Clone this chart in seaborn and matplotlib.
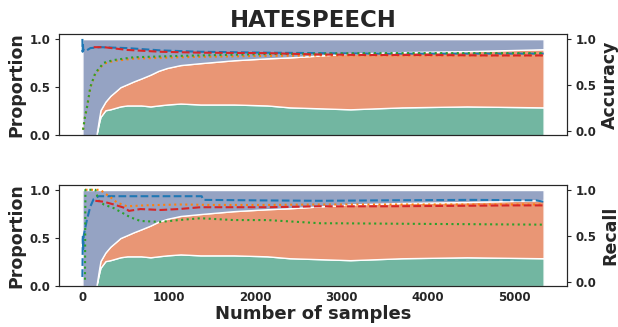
import matplotlib
matplotlib.use("Agg")
import matplotlib.pyplot as plt
import seaborn as sns

# x positions (number of samples) for the class proportion areas
prop_x = [0, 100, 162, 190, 209, 267, 324, 402, 440, 518, 594, 680, 788, 880, 981, 1136,
          1367, 1753, 2140, 2400, 2758, 3100, 3700, 4450, 5338]
# proportion of each class (bottom, middle, top)
prop_green = [0, 0, 0, 0.12, 0.19, 0.26, 0.27, 0.29, 0.30, 0.31, 0.31, 0.31, 0.30, 0.31,
              0.32, 0.33, 0.32, 0.32, 0.31, 0.29, 0.28, 0.27, 0.29, 0.30, 0.29]
prop_orange = [0, 0, 0, 0.04, 0.07, 0.09, 0.14, 0.18, 0.20, 0.22, 0.25, 0.28, 0.33, 0.36,
               0.38, 0.40, 0.43, 0.46, 0.49, 0.52, 0.55, 0.58, 0.575, 0.575, 0.605]
prop_blue = [1, 1, 1, 0.84, 0.74, 0.65, 0.59, 0.53, 0.50, 0.47, 0.44, 0.41, 0.37, 0.33,
             0.30, 0.27, 0.25, 0.22, 0.20, 0.19, 0.17, 0.15, 0.135, 0.125, 0.105]

# accuracy curves (top panel)
acc_blue_x = [0, 3, 6, 10, 20, 40, 93, 209, 518, 904, 1367, 2140, 2750, 3300, 4000, 4700, 5338]
acc_blue_y = [1.0, 0.86, 0.95, 0.87, 0.88, 0.87, 0.90, 0.91, 0.90, 0.875, 0.86, 0.85, 0.845,
              0.84, 0.84, 0.84, 0.84]
acc_orange_x = [8, 30, 54, 93, 150, 247, 363, 594, 1116, 1367, 2140, 2750, 3500, 4300, 5338]
acc_orange_y = [0.01, 0.15, 0.26, 0.47, 0.62, 0.73, 0.76, 0.785, 0.80, 0.805, 0.815, 0.82,
                0.82, 0.82, 0.82]
acc_green_x = [8, 30, 54, 93, 150, 247, 363, 594, 1116, 1367, 2140, 2750, 3500, 4300, 5338]
acc_green_y = [0.01, 0.15, 0.26, 0.48, 0.63, 0.74, 0.77, 0.80, 0.815, 0.82, 0.835, 0.84,
               0.845, 0.845, 0.845]
acc_red_x = [131, 250, 518, 904, 1367, 2140, 2750, 3300, 4000, 4700, 5338]
acc_red_y = [0.91, 0.91, 0.88, 0.86, 0.85, 0.845, 0.83, 0.825, 0.825, 0.82, 0.82]

# recall curves (bottom panel)
rec_blue_x = [0, 5, 10, 15, 54, 93, 131, 189, 300, 500, 900, 1380, 1400, 2000, 2750, 3500,
              4500, 5250, 5338]
rec_blue_y = [0.05, 0.5, 0.35, 0.5, 0.68, 0.82, 0.90, 0.93, 0.93, 0.93, 0.93, 0.93, 0.89,
              0.885, 0.88, 0.885, 0.89, 0.885, 0.87]
rec_orange_x = [35, 209, 247, 324, 402, 518, 710, 1116, 1500, 2140, 2750, 3500, 4300, 5338]
rec_orange_y = [1.0, 1.0, 0.97, 0.92, 0.86, 0.82, 0.83, 0.84, 0.835, 0.835, 0.84, 0.84,
                0.84, 0.84]
rec_green_x = [30, 35, 150, 189, 247, 363, 460, 556, 672, 904, 1116, 1367, 1753, 2140, 2758,
               2950, 3685, 4500, 5338]
rec_green_y = [0.02, 1.0, 1.0, 0.88, 0.84, 0.80, 0.75, 0.70, 0.66, 0.65, 0.67, 0.69, 0.67,
               0.67, 0.635, 0.635, 0.63, 0.625, 0.62]
rec_red_x = [150, 247, 363, 498, 537, 672, 904, 1116, 1367, 2140, 2750, 3500, 4300, 5000, 5338]
rec_red_y = [0.88, 0.87, 0.84, 0.80, 0.77, 0.79, 0.78, 0.79, 0.81, 0.81, 0.82, 0.82, 0.825,
             0.83, 0.83]

sns.set_style("white")
area_colors = sns.color_palette("Set2", 3, desat=0.75)

fig, axes = plt.subplots(2, 1, figsize=(6.18, 3.27), dpi=100, sharex=True)
fig.subplots_adjust(left=0.096, right=0.917, top=0.895, bottom=0.125, hspace=0.495)

panels = [
    ("Accuracy", [(acc_blue_x, acc_blue_y, "tab:blue", "--"),
                  (acc_orange_x, acc_orange_y, "tab:orange", ":"),
                  (acc_green_x, acc_green_y, "tab:green", ":"),
                  (acc_red_x, acc_red_y, "tab:red", "--")]),
    ("Recall", [(rec_blue_x, rec_blue_y, "tab:blue", "--"),
                (rec_orange_x, rec_orange_y, "tab:orange", ":"),
                (rec_green_x, rec_green_y, "tab:green", ":"),
                (rec_red_x, rec_red_y, "tab:red", "--")]),
]

for ax, (metric, lines) in zip(axes, panels):
    ax.stackplot(prop_x, prop_green, prop_orange, prop_blue, colors=area_colors,
                 edgecolor="white", linewidth=1)
    ax.set_ylim(0, 1.05)
    ax.set_yticks([0, 0.5, 1.0])
    ax.set_ylabel("Proportion", fontsize=12.5, fontweight="bold", labelpad=3)
    ax.tick_params(axis="y", left=True, length=3, labelsize=8.5)
    ax.tick_params(axis="x", length=0, labelsize=8.5)
    for lab in ax.get_yticklabels() + ax.get_xticklabels():
        lab.set_fontweight("bold")

    ax2 = ax.twinx()
    for xs, ys, col, ls in lines:
        sns.lineplot(x=xs, y=ys, ax=ax2, color=col, linestyle=ls, linewidth=1.5,
                     estimator=None, sort=False)
    ax2.set_ylim(-0.05, 1.05)
    ax2.set_yticks([0, 0.5, 1.0])
    ax2.set_ylabel(metric, fontsize=12.5, fontweight="bold", labelpad=3)
    ax2.tick_params(axis="y", right=True, length=3, labelsize=8.5)
    for lab in ax2.get_yticklabels():
        lab.set_fontweight("bold")

axes[0].set_title("HATESPEECH", fontsize=16.5, fontweight="bold", pad=5)
axes[1].set_xlabel("Number of samples", fontsize=13, fontweight="bold", labelpad=1)

fig.savefig("out.png", dpi=100)
